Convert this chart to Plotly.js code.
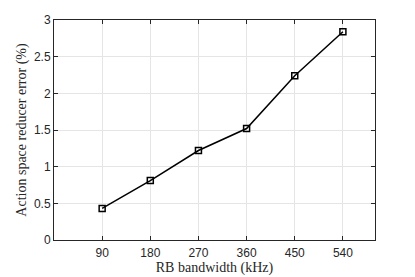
<!DOCTYPE html>
<html>
<head>
<meta charset="utf-8">
<script src="https://cdn.plot.ly/plotly-3.0.1.min.js"></script>
<style>
  html, body { margin: 0; padding: 0; background: #fff; }
  #chart { width: 415px; height: 277px; }
</style>
</head>
<body>
<div id="chart"></div>
<script>
// RB bandwidth (kHz) vs reducer error (%)
const bandwidth = [90, 180, 270, 360, 450, 540];
const errorPct = [0.43, 0.81, 1.22, 1.52, 2.24, 2.84];
const xTicks = [90, 180, 270, 360, 450, 540];
const yTicks = [0, 0.5, 1, 1.5, 2, 2.5, 3];

const trace = {
  x: bandwidth,
  y: errorPct,
  mode: "lines+markers",
  line: { color: "#000", width: 1.5 },
  marker: {
    symbol: "square-open",
    size: 6,
    color: "#000",
    line: { color: "#000", width: 1.5 },
  },
};

const titleFont = { family: "Liberation Serif, DejaVu Serif, serif", size: 14, color: "#262626" };

const axisCommon = {
  showline: true,
  mirror: "ticks",
  linecolor: "#262626",
  linewidth: 1,
  ticks: "inside",
  ticklen: 4,
  tickcolor: "#262626",
  showgrid: true,
  gridcolor: "#e5e5e5",
  gridwidth: 1,
  zeroline: false,
  tickfont: { family: "Liberation Sans, Arial, Helvetica, sans-serif", size: 12, color: "#262626" },
};

const layout = {
  width: 415,
  height: 277,
  margin: { l: 54, r: 40, t: 20, b: 37 },
  paper_bgcolor: "#fff",
  plot_bgcolor: "#fff",
  showlegend: false,
  xaxis: Object.assign({}, axisCommon, {
    range: [0, 600],
    tickvals: xTicks,
    ticktext: xTicks.map(String),
    ticklabelstandoff: 2,
    title: { text: "RB bandwidth (kHz)", font: titleFont, standoff: 0 },
  }),
  yaxis: Object.assign({}, axisCommon, {
    range: [0, 3],
    tickvals: yTicks,
    ticktext: yTicks.map(String),
    title: { text: "Action space reducer error (%)", font: titleFont, standoff: 4 },
  }),
};

Plotly.newPlot("chart", [trace], layout, { displayModeBar: false, staticPlot: true });
</script>
</body>
</html>
